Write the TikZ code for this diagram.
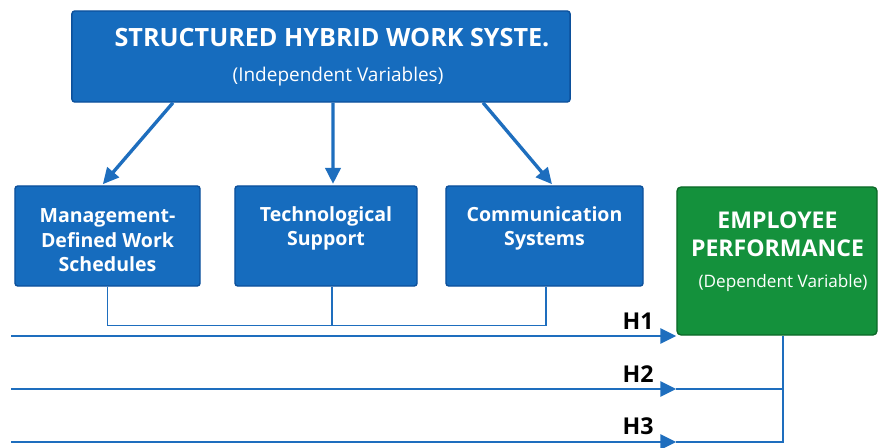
\documentclass[tikz,border=0pt]{standalone}
\usepackage{fontspec}
\setmainfont{Open Sans}
\usetikzlibrary{arrows.meta,positioning}
\definecolor{boxblue}{RGB}{22,108,190}
\definecolor{edgeblue}{RGB}{12,80,155}
\definecolor{boxgreen}{RGB}{20,145,60}
\definecolor{edgegreen}{RGB}{12,105,40}
\definecolor{lineblue}{RGB}{30,110,190}

\begin{document}
\begin{tikzpicture}[
 x=0.025cm, y=-0.025cm,
 >={Triangle[length=0.4cm,width=0.38cm]},
 align=center,
 inner sep=0pt,
 main/.style={draw=edgeblue,fill=boxblue,rounded corners=2pt,line width=1pt,minimum width=12.45cm,minimum height=2.275cm},
 box/.style={draw=edgeblue,fill=boxblue,rounded corners=2pt,line width=1pt,minimum height=2.5cm},
 result/.style={draw=edgegreen,fill=boxgreen,rounded corners=3pt,line width=1pt,minimum width=5cm,minimum height=3.7cm},
 boxtext/.style={text=white,font=\bfseries\fontsize{13.9}{17.4}\selectfont},
 subtext/.style={text=white,font=\fontsize{13.5}{15}\selectfont},
 hlabel/.style={text=black,font=\bfseries\fontsize{16.5}{18}\selectfont},
 link/.style={draw=lineblue,line width=1.5pt},
 bracket/.style={draw=lineblue,line width=1pt}
]
\useasboundingbox (0,0) rectangle (878,447);
% top box
\node (hybrid-box) [main] at (321,56.5) {};
\node (hybrid-title) [boxtext,font=\bfseries\fontsize{17.9}{20}\selectfont] at (332,38) {STRUCTURED HYBRID WORK SYSTE.};
\node (hybrid-sub) [subtext] at (338,77) {(Independent Variables)};
% second row
\node (schedules-box) [box,minimum width=4.625cm] at (107.5,236) {};
\node (tech-box) [box,minimum width=4.55cm] at (326,236) {};
\node (comm-box) [box,minimum width=4.925cm] at (544.5,236) {};
\node (schedules-text) [boxtext] at (107.5,240.5) {Management-\\Defined Work\\Schedules};
\node (tech-text) [boxtext] at (326,228.5) {Technological\\Support};
\node (comm-text) [boxtext] at (544.5,228.5) {Communication\\Systems};
% result box
\node (performance-box) [result] at (777,261) {};
\node (performance-title) [boxtext,font=\bfseries\fontsize{16.4}{19.6}\selectfont] at (777.5,234) {EMPLOYEE\\PERFORMANCE};
\node (performance-sub) [subtext,font=\fontsize{12.2}{14}\selectfont] at (783,283) {(Dependent Variable)};

\draw[link,line width=2.4pt,->,shorten >=1pt] ([xshift=-3.7cm]hybrid-box.south) -- ([xshift=-0.14cm]schedules-box.north);
\draw[link,line width=2.4pt,->,shorten >=1pt] ([xshift=0.3cm]hybrid-box.south) -- ([xshift=0.175cm]tech-box.north);
\draw[link,line width=2.4pt,->,shorten >=1pt] ([xshift=4.05cm]hybrid-box.south) -- ([xshift=0.21cm]comm-box.north);

\draw[bracket] (schedules-box.south) -- ++(0,39) -| ([xshift=0.04cm]comm-box.south);
\draw[bracket] ([xshift=0.15cm]tech-box.south) -- ++(0,39);

% hypotheses
\coordinate (h1-start) at (11,336);
\coordinate (h2-start) at (11,389);
\coordinate (h3-start) at (11,442);
\coordinate (back) at ([xshift=0.15cm]performance-box.south);
\draw[bracket] (back) |- (h3-start -| performance-box.west);
\draw[bracket] (h2-start -| back) -- (h2-start -| performance-box.west);
\draw[link,->] (h1-start) -- (h1-start -| performance-box.west);
\draw[link,->] (h2-start) -- (h2-start -| performance-box.west);
\draw[link,->] (h3-start) -- (h3-start -| performance-box.west);
\node (h1-label) [hlabel] at (638,321.5) {H1};
\node (h2-label) [hlabel] at (638,374) {H2};
\node (h3-label) [hlabel] at (638,426) {H3};
\end{tikzpicture}
\end{document}
